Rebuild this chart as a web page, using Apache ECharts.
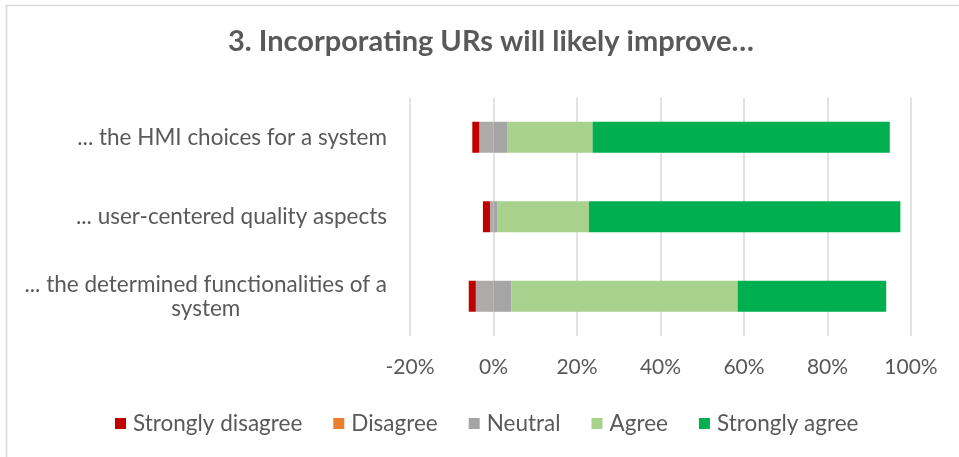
<!DOCTYPE html>
<html>
<head>
<meta charset="utf-8">
<script src="https://cdn.jsdelivr.net/npm/echarts@6/dist/echarts.min.js"></script>
<style>
html,body{margin:0;padding:0;background:#fff;}
#chart{width:959px;height:457px;}
</style>
</head>
<body>
<div id="chart"></div>
<script>
// Categories, top to bottom as displayed
const categories = [
  '... the HMI choices for a system',
  '... user-centered quality aspects',
  '... the determined functionalities of a system'
];
// Percent of respondents
const stronglyDisagree = [1.69, 1.69, 1.69];
const disagree         = [0, 0, 0];
const neutral          = [6.78, 1.69, 8.47];
const agree            = [20.34, 22.03, 54.24];
const stronglyAgree    = [71.19, 74.58, 35.59];
const xTicks = { min: -20, max: 100, interval: 20 };

const FONT = 'Lato';
const TXT = '#595959';

function wrapLabel(s, maxLen) {
  if (s.length <= maxLen) return [s];
  const idx = s.lastIndexOf(' ', maxLen);
  return [s.slice(0, idx), s.slice(idx + 1)];
}

const chart = echarts.init(document.getElementById('chart'), null, { renderer: 'canvas' });
const barW = 31;
const option = {
  backgroundColor: '#fff',
  animation: false,
  title: {
    text: '3. Incorporating URs will likely improve\u2026',
    left: 486, top: 22, textAlign: 'center',
    textStyle: { fontFamily: FONT, fontSize: 29, fontWeight: 'bold', color: TXT }
  },
  graphic: [{
    type: 'rect', silent: true,
    shape: { x: 6.5, y: 5.5, width: 1000, height: 500 },
    style: { fill: 'none', stroke: '#d9d9d9', lineWidth: 1.5 }
  }],
  legend: {
    left: 110, top: 407,
    itemWidth: 11, itemHeight: 11, itemGap: 31,
    icon: 'rect',
    data: ['Strongly disagree', 'Disagree', 'Neutral', 'Agree', 'Strongly agree'],
    textStyle: { fontFamily: FONT, fontSize: 22.5, color: TXT, padding: [0, 0, 0, 2] }
  },
  grid: { left: 410, right: 48, top: 97.5, bottom: 121 },
  xAxis: {
    type: 'value', min: xTicks.min, max: xTicks.max, interval: xTicks.interval,
    axisLine: { show: false }, axisTick: { show: false },
    splitLine: { lineStyle: { color: '#d9d9d9', width: 1.5 } },
    axisLabel: { formatter: '{value}%', fontFamily: FONT, fontSize: 21, color: TXT, margin: 21 }
  },
  yAxis: {
    type: 'category', data: categories, inverse: true,
    axisLine: { show: false }, axisTick: { show: false },
    axisLabel: {
      margin: 23,
      formatter: v => wrapLabel(v, 40).map(l => '{c|' + l + '}').join('\n'),
      rich: { c: { fontFamily: FONT, fontSize: 22.5, color: TXT, align: 'center', lineHeight: 24 } }
    }
  },
  series: [
    { name: 'Neutral', type: 'bar', stack: 'total', barWidth: barW,
      itemStyle: { color: '#A5A5A5' }, data: neutral.map(v => v / 2) },
    { name: 'Neutral', type: 'bar', stack: 'total', barWidth: barW,
      itemStyle: { color: '#AEAAAA' }, data: neutral.map(v => -v / 2) },
    { name: 'Disagree', type: 'bar', stack: 'total', barWidth: barW,
      itemStyle: { color: '#ED7D31' }, data: disagree.map(v => -v) },
    { name: 'Strongly disagree', type: 'bar', stack: 'total', barWidth: barW,
      itemStyle: { color: '#C00000' }, data: stronglyDisagree.map(v => -v) },
    { name: 'Agree', type: 'bar', stack: 'total', barWidth: barW,
      itemStyle: { color: '#A9D18E' }, data: agree },
    { name: 'Strongly agree', type: 'bar', stack: 'total', barWidth: barW,
      itemStyle: { color: '#00B050' }, data: stronglyAgree }
  ]
};
chart.setOption(option);
</script>
</body>
</html>
